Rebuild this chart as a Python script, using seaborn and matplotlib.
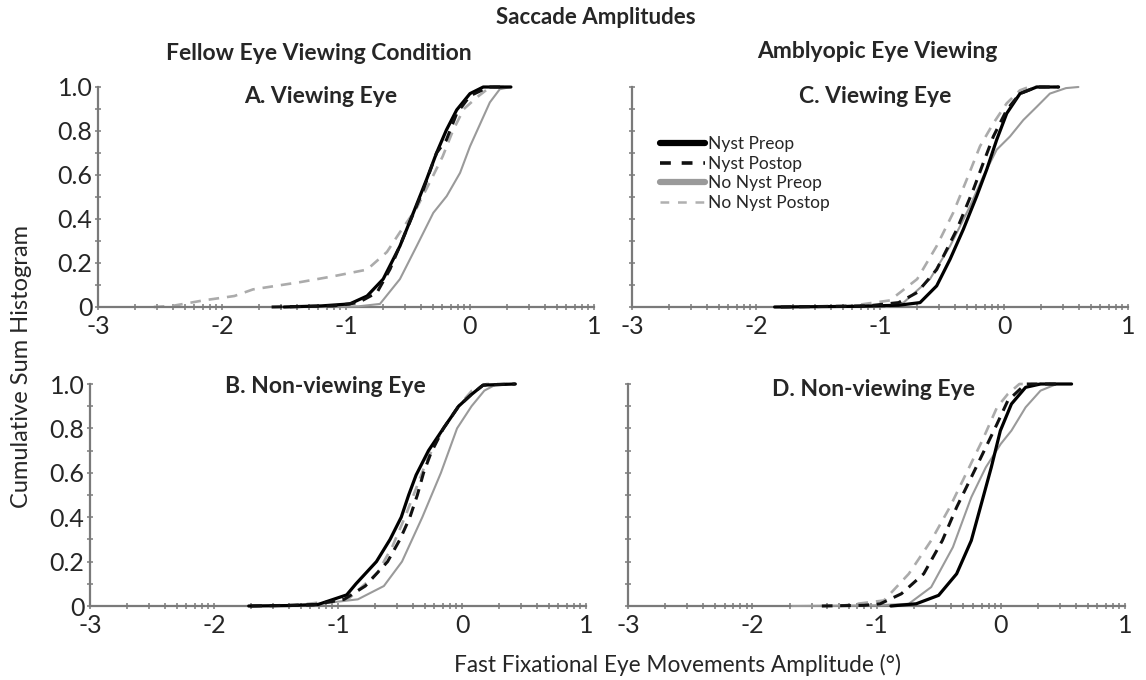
import numpy as np
import pandas as pd
import matplotlib
matplotlib.use("Agg")
import matplotlib.pyplot as plt
from matplotlib.lines import Line2D
import seaborn as sns

# ---------------- data ----------------
series_names = ["Nyst Preop", "Nyst Postop", "No Nyst Preop", "No Nyst Postop"]
panel_titles = {"A": "A. Viewing Eye", "B": "B. Non-viewing Eye",
                "C": "C. Viewing Eye", "D": "D. Non-viewing Eye"}
x_tick_values = [-3, -2, -1, 0, 1]
x_tick_labels = ["-3", "-2", "-1", "0", "1"]
y_tick_values = [0, 0.2, 0.4, 0.6, 0.8, 1.0]
y_tick_labels = ["0", "0.2", "0.4", "0.6", "0.8", "1.0"]

# Panel A
A_nyst_pre_x = [-1.50, -1.20, -0.97, -0.83, -0.70, -0.565, -0.457, -0.35, -0.27, -0.19, -0.107, 0.0, 0.107, 0.33]
A_nyst_pre_y = [0.0, 0.005, 0.014, 0.05, 0.127, 0.277, 0.428, 0.58, 0.70, 0.805, 0.896, 0.97, 1.0, 1.0]
A_nyst_post_x = [-1.60, -1.10, -0.90, -0.75, -0.645, -0.51, -0.376, -0.27, -0.19, -0.107, 0.0, 0.15, 0.30]
A_nyst_post_y = [0.0, 0.005, 0.02, 0.066, 0.172, 0.353, 0.534, 0.70, 0.76, 0.88, 0.96, 1.0, 1.0]
A_nonyst_pre_x = [-1.40, -0.90, -0.726, -0.565, -0.43, -0.296, -0.188, -0.08, 0.0, 0.08, 0.16, 0.24, 0.33]
A_nonyst_pre_y = [0.0, 0.003, 0.014, 0.127, 0.277, 0.428, 0.504, 0.61, 0.73, 0.83, 0.93, 0.99, 1.0]
A_nonyst_post_x = [-2.55, -2.40, -2.15, -1.90, -1.75, -1.37, -1.10, -0.83, -0.67, -0.565, -0.43, -0.30, -0.22, -0.135, -0.05, 0.06, 0.14, 0.19, 0.30]
A_nonyst_post_y = [0.0, 0.005, 0.03, 0.05, 0.08, 0.113, 0.14, 0.17, 0.25, 0.34, 0.45, 0.594, 0.685, 0.805, 0.90, 0.955, 0.99, 1.0, 1.0]

# Panel B
B_nyst_pre_x = [-1.72, -1.40, -1.16, -0.93, -0.855, -0.69, -0.58, -0.49, -0.43, -0.37, -0.27, -0.15, -0.027, 0.07, 0.17, 0.43]
B_nyst_pre_y = [0.0, 0.002, 0.007, 0.05, 0.10, 0.20, 0.30, 0.40, 0.50, 0.59, 0.70, 0.80, 0.90, 0.95, 0.995, 1.0]
B_nyst_post_x = [-1.70, -1.20, -0.95, -0.78, -0.60, -0.50, -0.42, -0.36, -0.31, -0.25, -0.15, -0.027, 0.07, 0.17, 0.43]
B_nyst_post_y = [0.0, 0.005, 0.03, 0.09, 0.20, 0.30, 0.40, 0.50, 0.60, 0.69, 0.80, 0.90, 0.95, 0.995, 1.0]
B_nonyst_pre_x = [-1.30, -0.84, -0.63, -0.484, -0.32, -0.17, -0.04, 0.077, 0.18, 0.28, 0.43]
B_nonyst_pre_y = [0.0, 0.03, 0.09, 0.20, 0.40, 0.60, 0.80, 0.90, 0.97, 1.0, 1.0]
B_nonyst_post_x = [-1.40, -0.92, -0.68, -0.56, -0.46, -0.37, -0.28, -0.15, -0.03, 0.08, 0.20, 0.40]
B_nonyst_post_y = [0.0, 0.03, 0.15, 0.27, 0.40, 0.53, 0.66, 0.80, 0.90, 0.97, 1.0, 1.0]

# Panel C
C_nyst_pre_x = [-1.85, -1.20, -0.85, -0.677, -0.543, -0.435, -0.328, -0.22, -0.14, -0.059, 0.022, 0.129, 0.264, 0.44]
C_nyst_pre_y = [0.0, 0.003, 0.008, 0.02, 0.096, 0.217, 0.353, 0.504, 0.624, 0.76, 0.88, 0.97, 1.0, 1.0]
C_nyst_post_x = [-1.80, -1.10, -0.85, -0.70, -0.543, -0.38, -0.247, -0.167, -0.086, 0.022, 0.129, 0.264, 0.44]
C_nyst_post_y = [0.0, 0.005, 0.02, 0.066, 0.17, 0.353, 0.534, 0.655, 0.775, 0.896, 0.97, 1.0, 1.0]
C_nonyst_pre_x = [-0.95, -0.81, -0.597, -0.435, -0.274, -0.167, -0.059, 0.048, 0.156, 0.264, 0.37, 0.50, 0.60]
C_nonyst_pre_y = [0.0, 0.02, 0.127, 0.277, 0.458, 0.594, 0.715, 0.775, 0.85, 0.91, 0.97, 0.995, 1.0]
C_nonyst_post_x = [-1.30, -0.92, -0.70, -0.543, -0.41, -0.30, -0.194, -0.086, 0.022, 0.129, 0.20, 0.45]
C_nonyst_post_y = [0.0, 0.03, 0.127, 0.277, 0.428, 0.58, 0.73, 0.835, 0.926, 0.985, 1.0, 1.0]

# Panel D
D_nyst_pre_x = [-0.884, -0.68, -0.50, -0.355, -0.237, -0.149, -0.076, -0.003, 0.086, 0.20, 0.32, 0.57]
D_nyst_pre_y = [0.0, 0.01, 0.048, 0.145, 0.295, 0.475, 0.625, 0.79, 0.91, 0.985, 1.0, 1.0]
D_nyst_post_x = [-1.44, -1.10, -0.97, -0.80, -0.62, -0.47, -0.355, -0.237, -0.12, -0.03, 0.057, 0.20, 0.45]
D_nyst_post_y = [0.0, 0.003, 0.01, 0.055, 0.145, 0.295, 0.445, 0.58, 0.715, 0.82, 0.925, 1.0, 1.0]
D_nonyst_pre_x = [-1.68, -1.00, -0.74, -0.56, -0.385, -0.237, -0.12, 0.0, 0.086, 0.20, 0.32, 0.45, 0.57]
D_nonyst_pre_y = [0.0, 0.003, 0.01, 0.085, 0.265, 0.49, 0.625, 0.73, 0.79, 0.895, 0.97, 1.0, 1.0]
D_nonyst_post_x = [-1.30, -0.94, -0.74, -0.56, -0.41, -0.267, -0.149, -0.03, 0.057, 0.15, 0.40]
D_nonyst_post_y = [0.0, 0.025, 0.145, 0.295, 0.445, 0.61, 0.745, 0.895, 0.955, 1.0, 1.0]

curves = {
    "A": [(A_nyst_pre_x, A_nyst_pre_y), (A_nyst_post_x, A_nyst_post_y),
          (A_nonyst_pre_x, A_nonyst_pre_y), (A_nonyst_post_x, A_nonyst_post_y)],
    "B": [(B_nyst_pre_x, B_nyst_pre_y), (B_nyst_post_x, B_nyst_post_y),
          (B_nonyst_pre_x, B_nonyst_pre_y), (B_nonyst_post_x, B_nonyst_post_y)],
    "C": [(C_nyst_pre_x, C_nyst_pre_y), (C_nyst_post_x, C_nyst_post_y),
          (C_nonyst_pre_x, C_nonyst_pre_y), (C_nonyst_post_x, C_nonyst_post_y)],
    "D": [(D_nyst_pre_x, D_nyst_pre_y), (D_nyst_post_x, D_nyst_post_y),
          (D_nonyst_pre_x, D_nonyst_pre_y), (D_nonyst_post_x, D_nonyst_post_y)],
}

rows = []
for p, lst in curves.items():
    for name, (xs, ys) in zip(series_names, lst):
        for i, (xv, yv) in enumerate(zip(xs, ys)):
            rows.append(dict(panel=p, series=name, order=i, x=xv, y=yv))
df = pd.DataFrame(rows)

# ---------------- styling ----------------
sns.set_style("ticks")
plt.rcParams["font.family"] = ["Lato", "DejaVu Sans"]

styles = {
    "Nyst Preop":     dict(color="#000000", lw=2.3, ls="-",  zorder=4),
    "Nyst Postop":    dict(color="#111111", lw=2.2, ls=(0, (3.5, 2.5)), zorder=5),
    "No Nyst Preop":  dict(color="#9a9a9a", lw=1.5, ls="-",  zorder=3),
    "No Nyst Postop": dict(color="#ababab", lw=1.9, ls=(0, (4, 3)), zorder=2),
}

W, H = 1146, 680
fig = plt.figure(figsize=(W / 100, H / 100), dpi=100)

def rect(left, right, y0, y1):
    return [left / W, 1 - y0 / H, (right - left) / W, (y0 - y1) / H]

axes = {
    "A": fig.add_axes(rect(98, 594, 307, 87)),
    "C": fig.add_axes(rect(632, 1128, 307, 87)),
    "B": fig.add_axes(rect(90, 586, 606, 384)),
    "D": fig.add_axes(rect(628, 1125, 606, 384)),
}
title_pos = {"A": (0.448, 0.955), "C": (0.49, 0.955), "B": (0.474, 0.99), "D": (0.493, 0.975)}

axis_col = "#7a7a7a"
minor_x = [n + np.log10(k) for n in range(-3, 1) for k in range(2, 10)]

for p, ax in axes.items():
    sub = df[df.panel == p]
    for name in series_names:
        s = sub[sub.series == name].sort_values("order")
        st = styles[name]
        sns.lineplot(data=s, x="x", y="y", ax=ax, sort=False, estimator=None,
                     color=st["color"], linewidth=st["lw"], linestyle=st["ls"],
                     zorder=st["zorder"], clip_on=False)
    ax.set_xlim(-3, 1)
    ax.set_ylim(0, 1)
    ax.set_xlabel("")
    ax.set_ylabel("")
    for sp in ["top", "right"]:
        ax.spines[sp].set_visible(False)
    for sp in ["left", "bottom"]:
        ax.spines[sp].set_color(axis_col)
        ax.spines[sp].set_linewidth(1.6)
    ax.set_xticks(x_tick_values)
    ax.set_xticklabels(x_tick_labels, fontsize=18)
    ax.set_xticks(minor_x, minor=True)
    ax.set_yticks(y_tick_values)
    ax.set_yticks(np.arange(0.1, 1.0, 0.2), minor=True)
    if p in ("A", "B"):
        ax.set_yticklabels(y_tick_labels, fontsize=18)
    else:
        ax.set_yticklabels([])
    ax.tick_params(axis="both", which="both", direction="inout", length=4,
                   width=1.1, color=axis_col, bottom=True, left=True,
                   top=False, right=False)
    ax.tick_params(axis="x", which="major", pad=4)
    ax.tick_params(axis="y", which="major", pad=2)
    ax.set_facecolor("white")
    tx, ty = title_pos[p]
    ax.text(tx, ty, panel_titles[p], transform=ax.transAxes, ha="center",
            va="center", fontsize=16.5, fontweight="bold")

# legend in panel C
handles = [
    Line2D([], [], color="#000000", lw=4.5, ls="-"),
    Line2D([], [], color="#111111", lw=2.6, ls=(0, (3, 3))),
    Line2D([], [], color="#9a9a9a", lw=4.5, ls="-"),
    Line2D([], [], color="#b0b0b0", lw=1.8, ls=(0, (3.5, 3.5))),
]
axes["C"].legend(handles, series_names, loc="upper left",
                 bbox_to_anchor=(0.056, 0.775), frameon=False, fontsize=12.5,
                 handlelength=2.6, handletextpad=0.15, labelspacing=0.2,
                 borderpad=0, borderaxespad=0)

fig.text(596 / W, 1 - 18 / H, "Saccade Amplitudes", ha="center", va="center",
         fontsize=16, fontweight="bold")
fig.text(319 / W, 1 - 53 / H, "Fellow Eye Viewing Condition", ha="center",
         va="center", fontsize=16.5, fontweight="bold")
fig.text(877 / W, 1 - 52 / H, "Amblyopic Eye Viewing", ha="center",
         va="center", fontsize=16.5, fontweight="bold")
fig.text(22 / W, 1 - 366 / H, "Cumulative Sum Histogram", ha="center",
         va="center", rotation=90, fontsize=17)
fig.text(677 / W, 1 - 665 / H, "Fast Fixational Eye Movements Amplitude (°)",
         ha="center", va="center", fontsize=16.3)

fig.savefig("out.png", dpi=100, facecolor="white")
